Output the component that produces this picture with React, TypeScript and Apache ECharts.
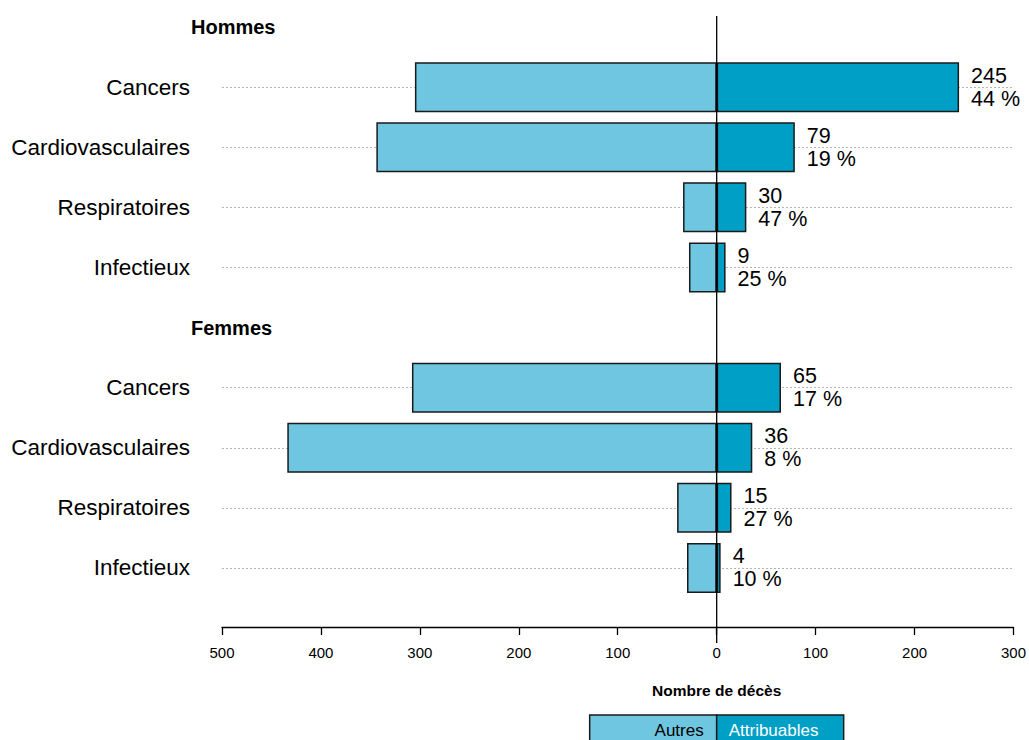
import React, { useEffect, useRef } from 'react';
import * as echarts from 'echarts';

const groups = ['Hommes', 'Femmes'];
const causes = ['Cancers', 'Cardiovasculaires', 'Respiratoires', 'Infectieux'];
const autresHommes = [305, 344, 34, 28];
const attribHommes = [245, 79, 30, 9];
const pctHommes = [44, 19, 47, 25];
const autresFemmes = [308, 434, 40, 30];
const attribFemmes = [65, 36, 15, 4];
const pctFemmes = [17, 8, 27, 10];
const xMin = -500;
const xMax = 300;
const xInterval = 100;
const axisTitle = 'Nombre de décès';
const legendLabels = ['Autres', 'Attribuables'];

const FONT = '"Liberation Sans", Arial, Helvetica, sans-serif';
const LIGHT = '#6EC6E0';
const DARK = '#00A0C6';
const BORDER = '#1a1a1a';
const OFF = 20; // chart canvas starts OFF px above the page top

type Row = { id: string; label: string; header: string | null; autres: number | null; attrib: number | null; pct: number | null };

const autresByGroup = [autresHommes, autresFemmes];
const attribByGroup = [attribHommes, attribFemmes];
const pctByGroup = [pctHommes, pctFemmes];

const rows: Row[] = [];
groups.forEach((g, gi) => {
  rows.push({ id: g, label: '', header: g, autres: null, attrib: null, pct: null });
  causes.forEach((c, ci) => {
    rows.push({
      id: g + '|' + c,
      label: c,
      header: null,
      autres: -autresByGroup[gi][ci],
      attrib: attribByGroup[gi][ci],
      pct: pctByGroup[gi][ci],
    });
  });
});

export default function App() {
  const ref = useRef<HTMLDivElement>(null);
  useEffect(() => {
    if (!ref.current) return;
    const chart = echarts.init(ref.current, undefined, { renderer: 'svg' });
    const ids = rows.map((r) => r.id);
    const labelOf: Record<string, string> = {};
    rows.forEach((r) => (labelOf[r.id] = r.label));
    chart.setOption({
      animation: false,
      backgroundColor: '#ffffff',
      textStyle: { fontFamily: FONT },
      grid: { left: 222, right: 12, top: OFF - 3, height: 601 },
      xAxis: {
        type: 'value',
        min: xMin,
        max: xMax,
        interval: xInterval,
        offset: 29,
        axisLine: { show: true, lineStyle: { color: '#000', width: 1.3 } },
        axisTick: { show: true, length: 8, lineStyle: { color: '#000', width: 1.3 } },
        axisLabel: {
          formatter: (v: number) => String(Math.abs(v)),
          fontSize: 15,
          color: '#000',
          margin: 18,
          fontFamily: FONT,
        },
        splitLine: { show: false },
      },
      yAxis: {
        type: 'category',
        inverse: true,
        data: ids,
        axisLine: { show: false },
        axisTick: { show: false },
        splitLine: { show: false },
        axisLabel: {
          formatter: (v: string) => labelOf[v] || '',
          fontSize: 22.5,
          color: '#000',
          margin: 32,
          fontFamily: FONT,
        },
      },
      series: [
        {
          name: legendLabels[0],
          type: 'bar',
          data: rows.map((r) => (r.autres === null ? '-' : r.autres)),
          barWidth: 50,
          z: 2,
          itemStyle: { color: LIGHT, borderColor: BORDER, borderWidth: 1.5 },
          markLine: {
            silent: true,
            symbol: 'none',
            z: 1,
            label: { show: false },
            lineStyle: { type: [2, 2], color: '#b5b5b5', width: 1 },
            data: rows
              .filter((r) => r.header === null)
              .map((r) => [{ coord: [xMin, r.id] }, { coord: [xMax, r.id] }]),
          },
        },
        {
          name: legendLabels[1],
          type: 'bar',
          data: rows.map((r) => (r.attrib === null ? '-' : r.attrib)),
          barWidth: 50,
          barGap: '-100%',
          z: 2,
          itemStyle: { color: DARK, borderColor: BORDER, borderWidth: 1.5 },
          label: {
            show: true,
            position: 'right',
            distance: 12,
            fontSize: 21.5,
            lineHeight: 23,
            color: '#000',
            fontFamily: FONT,
            formatter: (p: any) => {
              const r = rows[p.dataIndex];
              return r.attrib + '\n' + r.pct + ' %';
            },
          },
        },
      ],
    });

    const zero = chart.convertToPixel({ gridIndex: 0 }, [0, rows[0].id]) as number[];
    const zx = zero[0];
    const graphics: any[] = [];
    rows.forEach((r) => {
      if (r.header) {
        const p = chart.convertToPixel({ gridIndex: 0 }, [0, r.id]) as number[];
        graphics.push({
          type: 'text',
          x: 191,
          y: p[1],
          z: 10,
          style: {
            text: r.header,
            fill: '#000',
            font: 'bold 20px ' + FONT,
            textAlign: 'left',
            verticalAlign: 'middle',
          },
        });
      }
    });
    graphics.push({
      type: 'line',
      z: 10,
      shape: { x1: zx, y1: OFF + 16, x2: zx, y2: OFF + 643 },
      style: { stroke: '#000', lineWidth: 1.3 },
    });
    graphics.push({
      type: 'text',
      x: zx,
      y: OFF + 690,
      z: 10,
      style: {
        text: axisTitle,
        fill: '#000',
        font: 'bold 15.5px ' + FONT,
        textAlign: 'center',
        verticalAlign: 'middle',
      },
    });
    const legTop = OFF + 715;
    const legW = 127;
    graphics.push({
      type: 'rect',
      z: 10,
      shape: { x: zx - legW, y: legTop, width: legW, height: 32 },
      style: { fill: LIGHT, stroke: BORDER, lineWidth: 1.5 },
    });
    graphics.push({
      type: 'rect',
      z: 10,
      shape: { x: zx, y: legTop, width: legW, height: 32 },
      style: { fill: DARK, stroke: BORDER, lineWidth: 1.5 },
    });
    graphics.push({
      type: 'text',
      z: 11,
      x: zx - 13,
      y: OFF + 730,
      style: { text: legendLabels[0], fill: '#000', font: '17px ' + FONT, textAlign: 'right', verticalAlign: 'middle' },
    });
    graphics.push({
      type: 'text',
      z: 11,
      x: zx + 12,
      y: OFF + 730,
      style: { text: legendLabels[1], fill: '#fff', font: '17px ' + FONT, textAlign: 'left', verticalAlign: 'middle' },
    });
    chart.setOption({ graphic: graphics });

    return () => chart.dispose();
  }, []);
  return (
    <div
      ref={ref}
      style={{ position: 'fixed', left: 0, top: -OFF, width: 1029, height: 740 + OFF, background: '#fff' }}
    />
  );
}
